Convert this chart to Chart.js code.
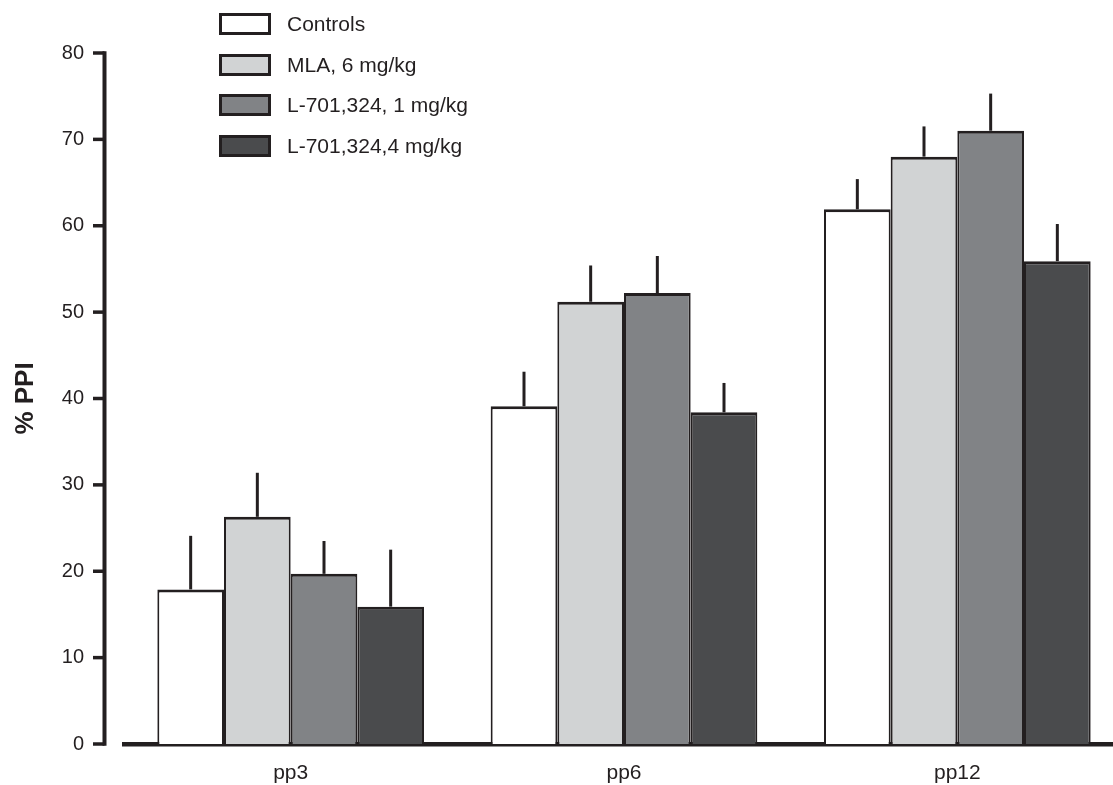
<!DOCTYPE html>
<html>
<head>
<meta charset="utf-8">
<script src="https://cdn.jsdelivr.net/npm/chart.js@4/dist/chart.umd.min.js"></script>
<style>
  html, body { margin: 0; padding: 0; background: #fff; overflow: hidden; }
  #wrap { position: relative; width: 1124px; height: 785px; }
  #legend { position: absolute; left: 219px; top: 13px; font-family: "Liberation Sans", Arial, sans-serif; font-size: 21px; color: #231f20; }
  .row { position: relative; height: 40.7px; }
  .box { position: absolute; left: 0; top: 0; width: 52px; height: 22px; box-sizing: border-box; border: 3px solid #231f20; }
  .lbl { position: absolute; left: 68px; top: -1px; line-height: 24px; white-space: nowrap; }
</style>
</head>
<body>
<div id="wrap">
  <canvas id="chart"></canvas>
  <div id="legend"></div>
</div>
<script>
// --- Data ---
const categories = ['pp3', 'pp6', 'pp12'];
const seriesNames = ['Controls', 'MLA, 6 mg/kg', 'L-701,324, 1 mg/kg', 'L-701,324,4 mg/kg'];
const seriesColors = ['#ffffff', '#d1d3d4', '#818386', '#4a4b4d'];

const controls = [17.9, 39.1, 61.9];
const mla6 = [26.3, 51.2, 68.0];
const l701_1 = [19.7, 52.2, 71.0];
const l701_4 = [15.9, 38.4, 55.9];

// upward error bars (SEM)
const controlsErr = [6.2, 4.0, 3.5];
const mla6Err = [5.1, 4.2, 3.5];
const l701_1Err = [3.8, 4.3, 4.3];
const l701_4Err = [6.6, 3.4, 4.3];

const yTicks = [0, 10, 20, 30, 40, 50, 60, 70, 80];

const ink = '#231f20';
const values = [controls, mla6, l701_1, l701_4];
const errors = [controlsErr, mla6Err, l701_1Err, l701_4Err];

// --- Plugins ---
const errorBars = {
    id: 'errorBars',
    afterDatasetsDraw(chart) {
        const ctx = chart.ctx;
        const y = chart.scales.y;
        ctx.save();
        ctx.strokeStyle = ink;
        ctx.lineWidth = 3;
        chart.data.datasets.forEach((ds, i) => {
            const meta = chart.getDatasetMeta(i);
            meta.data.forEach((bar, j) => {
                const top = y.getPixelForValue(ds.data[j] + ds.errors[j]);
                ctx.beginPath();
                ctx.moveTo(bar.x, bar.y);
                ctx.lineTo(bar.x, top);
                ctx.stroke();
            });
        });
        ctx.restore();
    }
};

// y axis stands a little apart from the x axis, so draw it by hand
const yAxisLine = {
    id: 'yAxisLine',
    afterDraw(chart) {
        const ctx = chart.ctx;
        const y = chart.scales.y;
        const x = chart.chartArea.left - 19.5;
        ctx.save();
        ctx.strokeStyle = ink;
        ctx.lineWidth = 4;
        ctx.beginPath();
        ctx.moveTo(x, y.getPixelForValue(80) - 1.75);
        ctx.lineTo(x, y.getPixelForValue(0) + 1.75);
        ctx.stroke();
        ctx.lineWidth = 3.5;
        yTicks.forEach(v => {
            const py = y.getPixelForValue(v);
            ctx.beginPath();
            ctx.moveTo(93, py);
            ctx.lineTo(x, py);
            ctx.stroke();
        });
        ctx.restore();
    }
};

const datasets = seriesNames.map((name, i) => ({
    label: name,
    data: values[i],
    errors: errors[i],
    backgroundColor: seriesColors[i],
    borderColor: ink,
    borderWidth: { top: 3, left: 2, right: 2, bottom: 0 },
    borderSkipped: false,
    barPercentage: 1.0,
    categoryPercentage: 0.8
}));

const chart = new Chart(document.getElementById('chart'), {
    type: 'bar',
    data: { labels: categories, datasets: datasets },
    options: {
        responsive: true,
        maintainAspectRatio: false,
        animation: false,
        layout: { padding: { top: 53, right: 0, bottom: 0, left: 0 } },
        plugins: {
            legend: { display: false },
            tooltip: { enabled: false }
        },
        scales: {
            x: {
                grid: { display: false, drawTicks: false },
                border: { display: true, color: ink, width: 4.5 },
                ticks: {
                    color: ink,
                    padding: 17,
                    font: { family: 'Liberation Sans', size: 21 }
                },
                afterFit(scale) {
                    scale.height = 41;
                    scale.paddingLeft = 0;
                    scale.paddingRight = 0;
                }
            },
            y: {
                min: 0,
                max: 80,
                grid: { display: false, drawTicks: false },
                border: { display: false },
                afterBuildTicks(scale) { scale.ticks = yTicks.map(v => ({ value: v })); },
                ticks: {
                    color: ink,
                    padding: 40,
                    font: { family: 'Liberation Sans', size: 20 }
                },
                title: {
                    display: true,
                    text: '% PPI',
                    color: ink,
                    padding: { top: 10, bottom: 0 },
                    font: { family: 'Liberation Sans', size: 26, weight: 'bold' }
                },
                afterFit(scale) {
                    scale.width = 124;
                    scale.paddingTop = 0;
                    scale.paddingBottom = 0;
                }
            }
        }
    },
    plugins: [errorBars, yAxisLine]
});

// --- Legend (HTML) ---
const legend = document.getElementById('legend');
seriesNames.forEach((name, i) => {
    const row = document.createElement('div');
    row.className = 'row';
    row.innerHTML = `<div class="box" style="background:${seriesColors[i]}"></div><div class="lbl">${name}</div>`;
    legend.appendChild(row);
});
</script>
</body>
</html>
